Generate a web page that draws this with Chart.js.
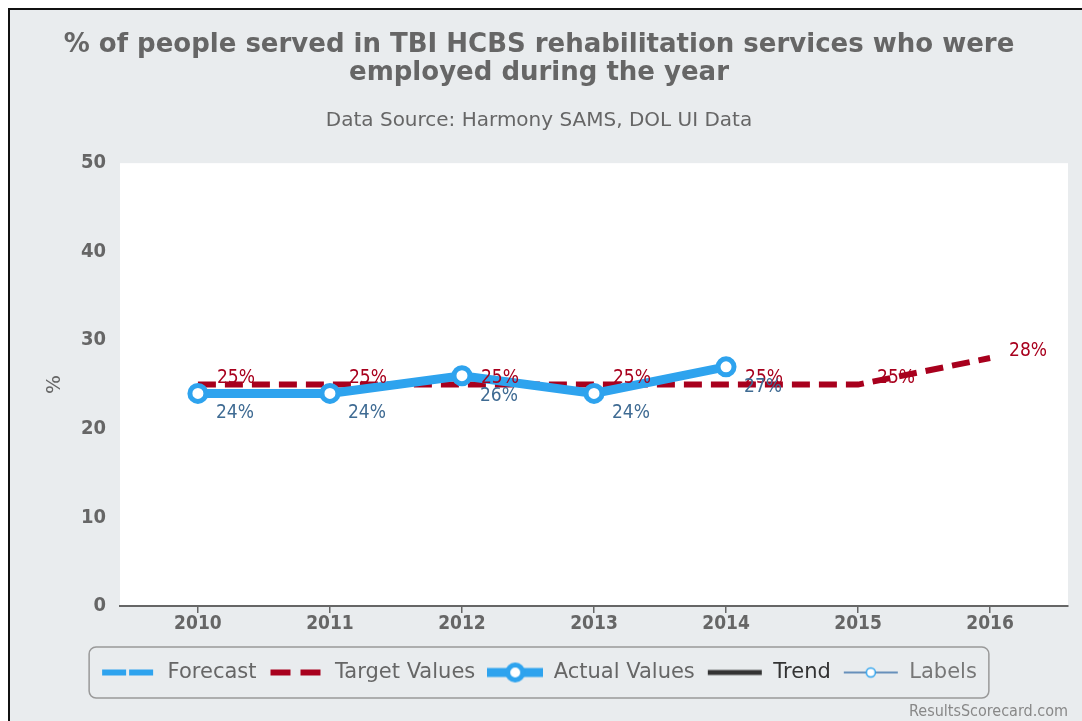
<!DOCTYPE html>
<html lang="en">
<head>
<meta charset="UTF-8">
<title>TBI HCBS employment</title>
<script src="https://cdn.jsdelivr.net/npm/chart.js"></script>
<style>
  html, body { margin: 0; padding: 0; background: #fff; overflow: hidden; }
  .frame {
    position: absolute; left: 8px; top: 8px; width: 1090px; height: 730px;
    border-left: 2px solid #111; border-top: 2px solid #111;
    background: #e9ecee;
  }
  #chart { position: absolute; left: 0; top: 0; }
</style>
</head>
<body>
<div class="frame"></div>
<canvas id="chart" width="1082" height="721"></canvas>
<script>
// chart data
const years = [2010, 2011, 2012, 2013, 2014, 2015, 2016];
const targetValues = [25, 25, 25, 25, 25, 25, 28];
const actualYears = [2010, 2011, 2012, 2013, 2014];
const actualValues = [24, 24, 26, 24, 27];
const yTicks = [0, 10, 20, 30, 40, 50];

const FONT = "'DejaVu Sans', sans-serif";
const NARROW = "'DejaVu Sans Condensed', 'DejaVu Sans', sans-serif";
const BLUE = '#2ea3ee';
const RED = '#a8001d';

// small canvases used as legend symbols
function legendIcon(draw) {
    const c = document.createElement('canvas');
    c.width = 56; c.height = 22;
    const g = c.getContext('2d');
    draw(g);
    return c;
}
const icons = {
    forecast: legendIcon(g => {
        g.strokeStyle = BLUE; g.lineWidth = 6; g.setLineDash([24, 3]);
        g.beginPath(); g.moveTo(1, 11); g.lineTo(55, 11); g.stroke();
    }),
    target: legendIcon(g => {
        g.strokeStyle = RED; g.lineWidth = 6; g.setLineDash([20, 10]);
        g.beginPath(); g.moveTo(2, 11); g.lineTo(55, 11); g.stroke();
    }),
    actual: legendIcon(g => {
        g.strokeStyle = BLUE; g.lineWidth = 9;
        g.beginPath(); g.moveTo(0, 11); g.lineTo(56, 11); g.stroke();
        g.fillStyle = '#fff'; g.lineWidth = 5;
        g.beginPath(); g.arc(28, 11, 7.5, 0, Math.PI * 2); g.fill(); g.stroke();
    }),
    trend: legendIcon(g => {
        g.strokeStyle = '#333'; g.lineWidth = 5;
        g.beginPath(); g.moveTo(1, 11); g.lineTo(55, 11); g.stroke();
    }),
    labels: legendIcon(g => {
        g.strokeStyle = '#3b72aa'; g.lineWidth = 1.5;
        g.beginPath(); g.moveTo(1, 11); g.lineTo(55, 11); g.stroke();
        g.fillStyle = '#fff'; g.strokeStyle = BLUE; g.lineWidth = 1.5;
        g.beginPath(); g.arc(28, 11, 4.5, 0, Math.PI * 2); g.fill(); g.stroke();
    })
};

// value labels next to the points
const pointLabels = {
    id: 'pointLabels',
    afterDatasetsDraw(chart) {
        const ctx = chart.ctx;
        ctx.save();
        ctx.font = '19px ' + NARROW;
        ctx.textAlign = 'left';
        ctx.textBaseline = 'middle';
        const specs = [
            { index: 1, color: RED, dx: 19, dy: -7 },
            { index: 2, color: '#3f6b93', dx: 18, dy: 20 }
        ];
        specs.forEach(s => {
            const meta = chart.getDatasetMeta(s.index);
            const data = chart.data.datasets[s.index].data;
            ctx.fillStyle = s.color;
            meta.data.forEach((pt, i) => {
                ctx.fillText(data[i].y + '%', pt.x + s.dx, pt.y + s.dy);
            });
        });
        ctx.restore();
    }
};

// white plot area, legend frame and credit line
const decorations = {
    id: 'decorations',
    beforeDraw(chart) {
        const a = chart.chartArea;
        chart.ctx.save();
        chart.ctx.fillStyle = '#fff';
        chart.ctx.fillRect(a.left, a.top, a.right - a.left, a.bottom - a.top);
        chart.ctx.restore();
    },
    afterDraw(chart) {
        const ctx = chart.ctx;
        const boxes = chart.legend.legendHitBoxes;
        if (boxes && boxes.length) {
            const first = boxes[0], last = boxes[boxes.length - 1];
            const x0 = first.left - 12, x1 = last.left + last.width + 12;
            const y0 = first.top - 15, y1 = first.top + first.height + 15;
            ctx.save();
            ctx.strokeStyle = '#999';
            ctx.lineWidth = 1.5;
            ctx.beginPath();
            ctx.roundRect(x0, y0, x1 - x0, y1 - y0, 7);
            ctx.stroke();
            ctx.restore();
        }
        ctx.save();
        ctx.font = '16px ' + NARROW;
        ctx.fillStyle = '#888';
        ctx.textAlign = 'right';
        ctx.textBaseline = 'middle';
        ctx.fillText('ResultsScorecard.com', chart.chartArea.right, 712);
        ctx.restore();
    }
};

new Chart(document.getElementById('chart'), {
    type: 'line',
    data: {
        datasets: [
            {
                label: 'Forecast',
                data: [],
                borderColor: BLUE,
                borderDash: [24, 3],
                borderWidth: 6,
                order: 3
            },
            {
                label: 'Target Values',
                data: years.map((y, i) => ({ x: y, y: targetValues[i] })),
                borderColor: RED,
                borderWidth: 6,
                borderDash: [18, 9],
                pointRadius: 0,
                tension: 0,
                order: 2
            },
            {
                label: 'Actual Values',
                data: actualYears.map((y, i) => ({ x: y, y: actualValues[i] })),
                borderColor: BLUE,
                borderWidth: 9,
                pointRadius: 8,
                pointBorderWidth: 5,
                pointBackgroundColor: '#fff',
                pointBorderColor: BLUE,
                tension: 0,
                order: 1
            },
            {
                label: 'Trend',
                data: [],
                borderColor: '#333',
                borderWidth: 5,
                order: 4
            },
            {
                label: 'Labels',
                data: [],
                borderColor: '#3b72aa',
                borderWidth: 1.5,
                order: 5
            }
        ]
    },
    options: {
        responsive: false,
        animation: false,
        layout: { padding: { left: 10, right: 14, top: 0, bottom: 28 } },
        scales: {
            x: {
                type: 'linear',
                min: 2009.41,
                max: 2016.59,
                afterBuildTicks: scale => { scale.ticks = years.map(v => ({ value: v })); },
                afterFit: scale => { scale.height = 44; },
                grid: { display: true, drawOnChartArea: false, drawTicks: true, tickLength: 7, color: '#666', lineWidth: 1.5 },
                border: { display: true, color: '#666', width: 2 },
                ticks: {
                    color: '#666',
                    font: { family: NARROW, size: 19, weight: 'bold' },
                    padding: 0,
                    callback: v => String(v)
                }
            },
            y: {
                min: 0,
                max: 50,
                afterBuildTicks: scale => { scale.ticks = yTicks.map(v => ({ value: v })); },
                afterFit: scale => { scale.width = 110; },
                grid: { display: false, drawTicks: false },
                border: { display: false },
                ticks: {
                    color: '#666',
                    font: { family: NARROW, size: 20, weight: 'bold' },
                    padding: 14
                },
                title: {
                    display: true,
                    text: '%',
                    color: '#666',
                    font: { family: FONT, size: 20 },
                    padding: { top: 33, bottom: 0 }
                }
            }
        },
        plugins: {
            title: {
                display: true,
                text: ['% of people served in TBI HCBS rehabilitation services who were',
                       'employed during the year'],
                color: '#666',
                font: { family: FONT, size: 26, weight: 'bold', lineHeight: 1.08 },
                padding: { top: 31, bottom: 22 }
            },
            subtitle: {
                display: true,
                text: 'Data Source: Harmony SAMS, DOL UI Data',
                color: '#666',
                font: { family: FONT, size: 20, lineHeight: 1.2 },
                padding: { top: 0, bottom: 30 }
            },
            legend: {
                position: 'bottom',
                labels: {
                    usePointStyle: true,
                    pointStyleWidth: 56,
                    padding: 12,
                    color: '#666',
                    font: { family: FONT, size: 21 },
                    generateLabels: chart => {
                        const keys = ['forecast', 'target', 'actual', 'trend', 'labels'];
                        const colors = ['#666', '#666', '#666', '#333', '#777'];
                        return chart.data.datasets.map((ds, i) => ({
                            text: ds.label,
                            datasetIndex: i,
                            pointStyle: icons[keys[i]],
                            fillStyle: 'transparent',
                            strokeStyle: 'transparent',
                            lineWidth: 0,
                            fontColor: colors[i],
                            hidden: false
                        }));
                    }
                }
            },
            tooltip: { enabled: false }
        }
    },
    plugins: [decorations, pointLabels]
});
</script>
</body>
</html>
